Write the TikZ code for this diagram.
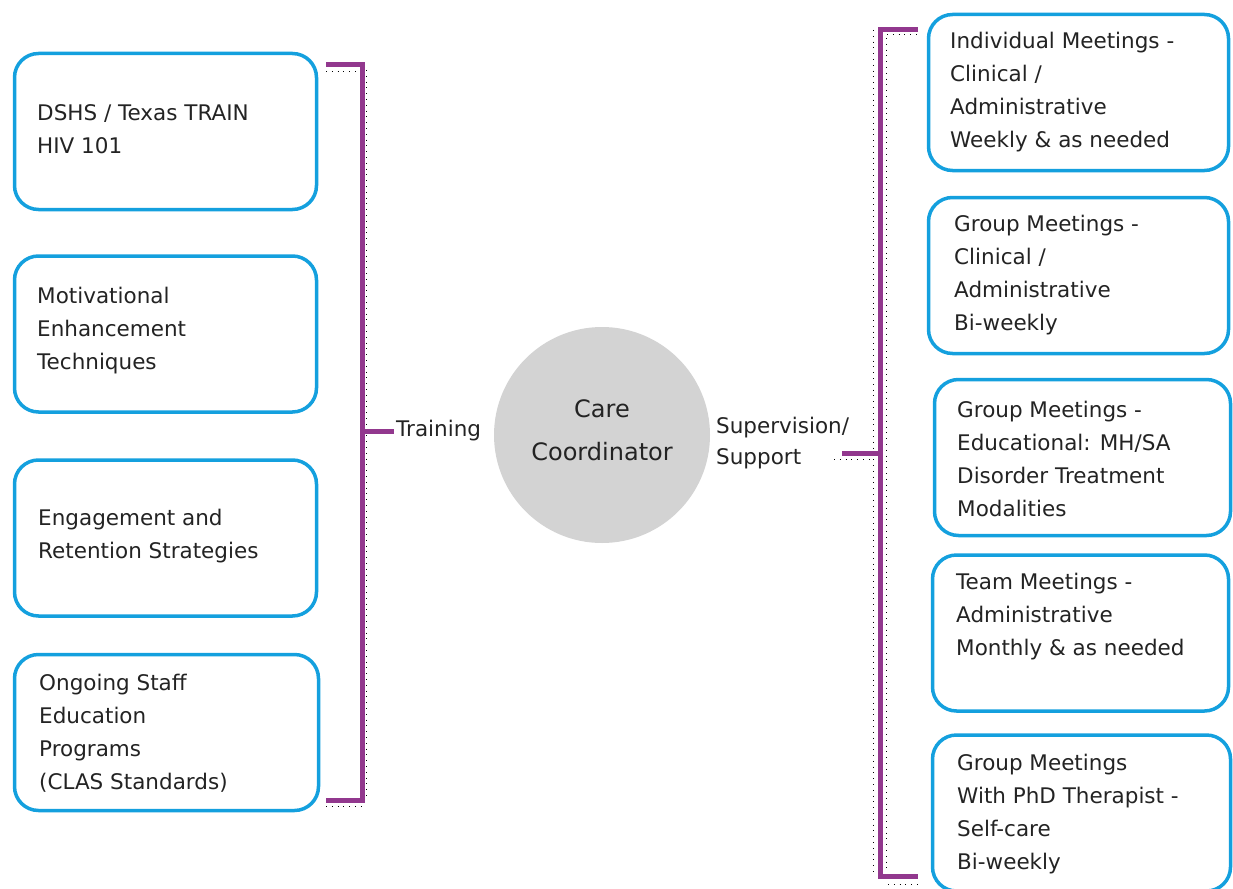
\documentclass[tikz,border=0pt]{standalone}
\usepackage{fontspec}
\setmainfont{DejaVu Sans}
\definecolor{bl}{RGB}{20,160,222}
\definecolor{pu}{RGB}{146,56,142}
\definecolor{cg}{RGB}{211,211,211}
\definecolor{tx}{RGB}{35,35,35}
\begin{document}
\begin{tikzpicture}[x=1pt,y=-1pt,
 box/.style={draw=bl,line width=3.5pt,rounded corners=24pt,minimum width=302pt,minimum height=156pt,inner sep=0pt},
 lbl/.style={anchor=west,align=left,inner sep=0pt,text=tx,font=\fontsize{21.5}{33}\selectfont},
 brk/.style={draw=pu,line width=5pt},
 dots/.style={draw=black,line width=0.8pt,dash pattern=on 0.8pt off 5pt}]
\useasboundingbox (0,0) rectangle (1233,888);
% left boxes
\node[box] (l1) at (165.5,131.5) {};
\node[box] (l2) at (165.5,334) {};
\node[box] (l3) at (165.5,538) {};
\node[box,minimum width=304pt] (l4) at (166.5,732.5) {};
\node[lbl] (t1) at (37,129.5) {DSHS / Texas TRAIN\\HIV 101};
\node[lbl] (t2) at (37,331) {Motivational\\Enhancement\\Techniques};
\node[lbl] (t3) at (38,536.5) {Engagement and\\Retention Strategies};
\node[lbl] (t4) at (39,733) {Ongoing Staff\\Education\\Programs\\(CLAS Standards)};
% right boxes
\node[box,minimum width=300pt] (r1) at (1078.5,92.5) {};
\node[box,minimum width=300pt] (r2) at (1078.5,275.5) {};
\node[box,minimum width=296pt] (r3) at (1082.5,457.5) {};
\node[box,minimum width=296pt] (r4) at (1080.5,633) {};
\node[box,minimum width=298pt] (r5) at (1081.5,813) {};
\node[lbl] (s1) at (950,92.5) {Individual Meetings -\\Clinical /\\Administrative\\Weekly \& as needed};
\node[lbl] (s2) at (954,275.5) {Group Meetings -\\Clinical /\\Administrative\\Bi-weekly};
\node[lbl] (s3) at (957,459) {Group Meetings -\\Educational: MH/SA\\Disorder Treatment\\Modalities};
\node[lbl] (s4) at (956,616.5) {Team Meetings -\\Administrative\\Monthly \& as needed};
\node[lbl] (s5) at (957,814.5) {Group Meetings\\With PhD Therapist -\\Self-care\\Bi-weekly};
% centre
\node[circle,fill=cg,minimum size=216pt,inner sep=0pt] (cc) at (602,435) {};
\node[align=center,inner sep=0pt,text=tx,font=\fontsize{24}{43}\selectfont] (cct) at (602,430) {Care\\Coordinator};
% labels
\node[lbl] (trn) at (396,431) {Training};
\node[lbl,font=\fontsize{21.5}{31}\selectfont] (sup) at (716,443) {Supervision/\\Support};
% left bracket
\coordinate (lmid) at (362,431);
\coordinate (rmid) at (880,453);
\coordinate (rtick) at (842,453);
\draw[dots] (326,71) -- (362,71);
\draw[dots] (366,70) -- (366,800);
\draw[dots] (326,806) -- (364,806);
\draw[brk] (326,65) -- (362,65) -- (362,800) -- (326,800);
\draw[brk] (lmid) -- ([xshift=-2pt]trn.west);
% right bracket
\draw[dots] (887,34) -- (918,34);
\draw[dots] (886,38) -- (886,872);
\draw[dots] (873,30) -- (873,876);
\draw[dots] (834,459) -- (874,459);
\draw[dots] (888,884) -- (918,884);
\draw[brk] (918,30) -- (880,30) -- (880,876) -- (918,876);
\draw[brk] (rtick) -- (rmid);
\end{tikzpicture}
\end{document}
